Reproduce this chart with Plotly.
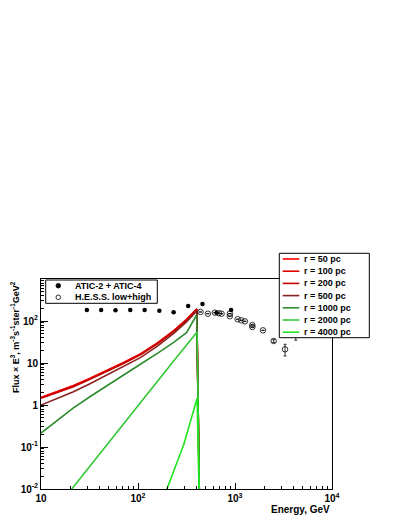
import plotly.graph_objects as go

# ---- data ----
atic_e = [29.7, 41.7, 58.6, 83.2, 117, 166, 233, 329, 462, 646, 912]
atic_f = [183, 183, 180, 183, 183, 176, 161, 228, 254, 158, 182]
atic_err = [0, 0, 0, 0, 0, 0, 0, 0, 0, 0, 8]

hess_e = [441, 525, 620, 682, 727, 885, 885, 1064, 1162, 1265, 1509, 1509, 1942, 2505, 3280, 4236]
hess_f = [164, 149, 158, 153, 149, 150, 130, 110, 104, 98, 80, 72, 60, 33.4, 21.2, 48]
hess_err_up = [0, 0, 0, 0, 0, 0, 0, 0, 0, 0, 0, 0, 0, 2.5, 6.7, 6]
hess_err_dn = [0, 0, 0, 0, 0, 0, 0, 0, 0, 0, 0, 0, 0, 2.5, 6.5, 13]

# model curves (energy in GeV, flux x E^3), last point is the cut-off drop
model_e = [10, 14.7, 21.6, 31.6, 47.8, 70.8, 105.7, 158.5, 233.3, 316.2, 403.6, 434]
model_r50 = [1.53, 2.09, 2.9, 4.27, 6.6, 10.3, 16.5, 30.2, 59, 109, 194, 0.001]
model_r100 = [1.49, 2.04, 2.83, 4.17, 6.46, 10.0, 16.1, 29.5, 57.8, 107, 190, 0.001]
model_r200 = [1.44, 1.97, 2.73, 4.03, 6.24, 9.66, 15.6, 28.5, 56, 104, 185, 0.001]
model_r500 = [1.0, 1.41, 2.07, 3.16, 5.18, 8.13, 13.4, 25.1, 50.9, 95.5, 173, 0.001]
model_r1000 = [0.214, 0.437, 0.851, 1.55, 2.82, 5.13, 9.33, 17.0, 30.9, 52.5, 141, 0.001]

model2000_e = [10, 20.7, 32.1, 47.8, 110, 233, 407, 434]
model_r2000 = [0.0012, 0.01, 0.0355, 0.116, 1.245, 11.2, 55, 0.001]

model4000_e = [150, 200, 297, 407, 434]
model_r4000 = [0.0018, 0.01, 0.116, 1.45, 0.001]

labels = ["r = 50 pc", "r = 100 pc", "r = 200 pc", "r = 500 pc",
          "r = 1000 pc", "r = 2000 pc", "r = 4000 pc"]
colors = ["#ff0000", "#e00000", "#c40000", "#8b2020",
          "#2e8b2e", "#33c833", "#1fe61f"]

FONT = "Liberation Sans, Arial, sans-serif"

# plot frame in page pixels (page has an 8px body margin)
OFF = 8
L, R, T, B = 41, 332, 279, 489
W, H = 399 - OFF, 516 - OFF


def px(x):
    return (x - L) / (R - L)


def py(y):
    return (B - y) / (B - T)


fig = go.Figure()

curves = [
    (model_e, model_r50), (model_e, model_r100), (model_e, model_r200),
    (model_e, model_r500), (model_e, model_r1000),
    (model2000_e, model_r2000), (model4000_e, model_r4000),
]
for (xs, ys), lab, col in zip(curves, labels, colors):
    fig.add_trace(go.Scatter(x=xs, y=ys, mode="lines", name=lab,
                             line=dict(color=col, width=1.6), showlegend=False))

fig.add_trace(go.Scatter(
    x=atic_e, y=atic_f, mode="markers", name="ATIC-2 + ATIC-4",
    marker=dict(symbol="circle", size=4.5, color="black"),
    error_y=dict(type="data", array=atic_err, color="black", thickness=1, width=1),
    showlegend=False))

fig.add_trace(go.Scatter(
    x=hess_e, y=hess_f, mode="markers", name="H.E.S.S. low+high",
    marker=dict(symbol="circle-open", size=5.5, color="black", line=dict(width=0.8)),
    error_y=dict(type="data", array=hess_err_up, arrayminus=hess_err_dn,
                 color="black", thickness=0.8, width=1.5),
    showlegend=False))

# ---- hand-made legends (ROOT style, compact) ----
shapes = []
annotations = []

# legend 1: data points
shapes.append(dict(type="rect", xref="paper", yref="paper", layer="above",
                   x0=px(45.7), x1=px(157.3), y0=py(303.3), y1=py(280),
                   line=dict(color="black", width=1), fillcolor="white"))
leg1 = [("ATIC-2 + ATIC-4", 285.7, "black"), ("H.E.S.S. low+high", 297.3, "white")]
for txt, yy, fill in leg1:
    shapes.append(dict(type="circle", xref="paper", yref="paper", layer="above",
                       xsizemode="pixel", ysizemode="pixel",
                       xanchor=px(58.3), yanchor=py(yy),
                       x0=-2.3, x1=2.3, y0=-2.3, y1=2.3,
                       line=dict(color="black", width=0.8), fillcolor=fill))
    annotations.append(dict(xref="paper", yref="paper", x=px(73), y=py(yy),
                            xanchor="left", yanchor="middle", showarrow=False,
                            text="<b>%s</b>" % txt,
                            font=dict(family=FONT, size=9, color="black")))

# legend 2: model curves
shapes.append(dict(type="rect", xref="paper", yref="paper", layer="above",
                   x0=px(279.3), x1=px(369.3), y0=py(337.7), y1=py(253.3),
                   line=dict(color="black", width=1), fillcolor="white"))
for i, (lab, col) in enumerate(zip(labels, colors)):
    yy = 259 + i * 12.2
    shapes.append(dict(type="line", xref="paper", yref="paper", layer="above",
                       x0=px(282.7), x1=px(299.3), y0=py(yy), y1=py(yy),
                       line=dict(color=col, width=1.6)))
    annotations.append(dict(xref="paper", yref="paper", x=px(301.5), y=py(yy),
                            xanchor="left", yanchor="middle", showarrow=False,
                            text="<b>%s</b>" % lab,
                            font=dict(family=FONT, size=9, color="black")))

# axis titles
annotations.append(dict(xref="paper", yref="paper", x=px(R), y=py(509),
                        xanchor="right", yanchor="middle", showarrow=False,
                        text="<b>Energy, GeV</b>",
                        font=dict(family=FONT, size=10, color="black")))
annotations.append(dict(xref="paper", yref="paper", x=px(15), y=py(T),
                        xanchor="center", yanchor="top", showarrow=False,
                        textangle=-90,
                        text="<b>Flux × E<sup>3</sup>, m<sup>-3</sup>s<sup>-1</sup>ster<sup>-1</sup>GeV<sup>2</sup></b>",
                        font=dict(family=FONT, size=9, color="black")))

x_ticks = [10, 100, 1000, 10000]
x_ticktext = ["10", "10<sup>2</sup>", "10<sup>3</sup>", "10<sup>4</sup>"]
y_ticks = [0.01, 0.1, 1, 10, 100]
y_ticktext = ["10<sup>-2</sup>", "10<sup>-1</sup>", "1", "10", "10<sup>2</sup>"]

x_minor = [m * 10 ** d for d in range(1, 4) for m in range(2, 10)]
y_minor = [m * 10.0 ** d for d in range(-2, 3) for m in range(2, 10)]

axis_common = dict(type="log", showgrid=False, zeroline=False,
                   showline=True, linecolor="black", linewidth=1, mirror=True,
                   ticks="inside", tickcolor="black", tickwidth=1,
                   tickfont=dict(family=FONT, size=10, color="black", weight="bold"))

fig.update_layout(
    width=W, height=H,
    margin=dict(l=L - OFF, r=399 - R, t=T - OFF, b=516 - B),
    paper_bgcolor="white", plot_bgcolor="white",
    showlegend=False,
    xaxis=dict(range=[1, 4], tickvals=x_ticks, ticktext=x_ticktext, ticklen=6,
               minor=dict(tickvals=x_minor, ticks="inside", ticklen=3,
                          tickcolor="black", showgrid=False),
               **axis_common),
    yaxis=dict(range=[-2, 3], tickvals=y_ticks, ticktext=y_ticktext, ticklen=7,
               minor=dict(tickvals=y_minor, ticks="inside", ticklen=3,
                          tickcolor="black", showgrid=False),
               **axis_common),
    shapes=shapes,
    annotations=annotations,
)

fig.write_html("out.html")
